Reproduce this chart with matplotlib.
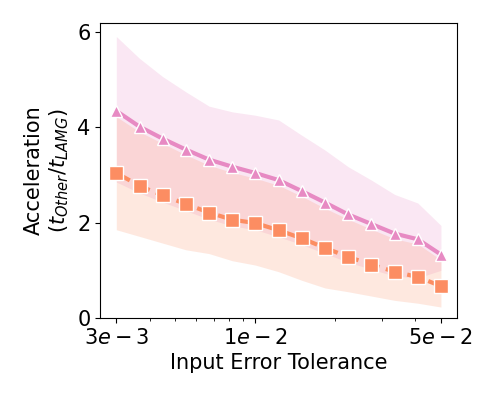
import matplotlib
matplotlib.use("Agg")
import matplotlib.pyplot as plt

# input error tolerance (log spaced)
tol = [0.003, 0.00367, 0.00448, 0.00548, 0.0067, 0.0082, 0.01, 0.01225,
       0.01497, 0.0183, 0.02238, 0.02737, 0.03346, 0.04091, 0.05]

# pink series (triangles)
pink_mean = [4.34, 4.01, 3.76, 3.53, 3.32, 3.17, 3.04, 2.89, 2.66, 2.42,
             2.17, 1.97, 1.77, 1.65, 1.33]
pink_low = [2.85, 2.62, 2.43, 2.25, 2.07, 1.93, 1.85, 1.70, 1.54, 1.35,
            1.17, 1.02, 0.88, 0.84, 1.00]
pink_high = [5.90, 5.44, 5.06, 4.74, 4.44, 4.32, 4.25, 4.15, 3.83, 3.52,
             3.17, 2.89, 2.59, 2.41, 1.94]

# orange series (squares)
orange_mean = [3.04, 2.77, 2.57, 2.39, 2.21, 2.06, 1.99, 1.84, 1.67, 1.47,
               1.28, 1.12, 0.97, 0.86, 0.67]
orange_low = [1.85, 1.71, 1.57, 1.43, 1.35, 1.20, 1.11, 0.97, 0.79, 0.63,
              0.55, 0.46, 0.37, 0.31, 0.23]
orange_high = [4.22, 3.90, 3.66, 3.42, 3.20, 3.05, 2.93, 2.78, 2.55, 2.30,
               2.07, 1.86, 1.66, 1.55, 1.22]

xticks = [3e-3, 1e-2, 5e-2]
xticklabels = ['$3e-3$', '$1e-2$', '$5e-2$']

pink = '#e78ac3'
orange = '#fc8d62'

fig = plt.figure(figsize=(4.98, 3.99), dpi=100)
ax = fig.add_axes([0.201, 0.203, 0.717, 0.739])

ax.fill_between(tol, pink_low, pink_high, color=pink, alpha=0.2, lw=0)
ax.fill_between(tol, orange_low, orange_high, color=orange, alpha=0.2, lw=0)

ax.plot(tol, pink_mean, color=pink, lw=3, marker='^', ms=9,
        markeredgecolor='white', markeredgewidth=1)
ax.plot(tol, orange_mean, color=orange, lw=3, ls='--', marker='s', ms=10,
        markeredgecolor='white', markeredgewidth=1)

ax.set_xscale('log')
ax.set_xticks(xticks)
ax.set_xticklabels(xticklabels)
ax.set_ylim(0, 6.18)
ax.set_yticks([0, 2, 4, 6])
ax.tick_params(labelsize=15)

ax.set_xlabel('Input Error Tolerance', fontsize=15)
ax.set_ylabel('Acceleration\n($t_{Other}/t_{LAMG}$)', fontsize=15)

plt.savefig('out.png', dpi=100)
